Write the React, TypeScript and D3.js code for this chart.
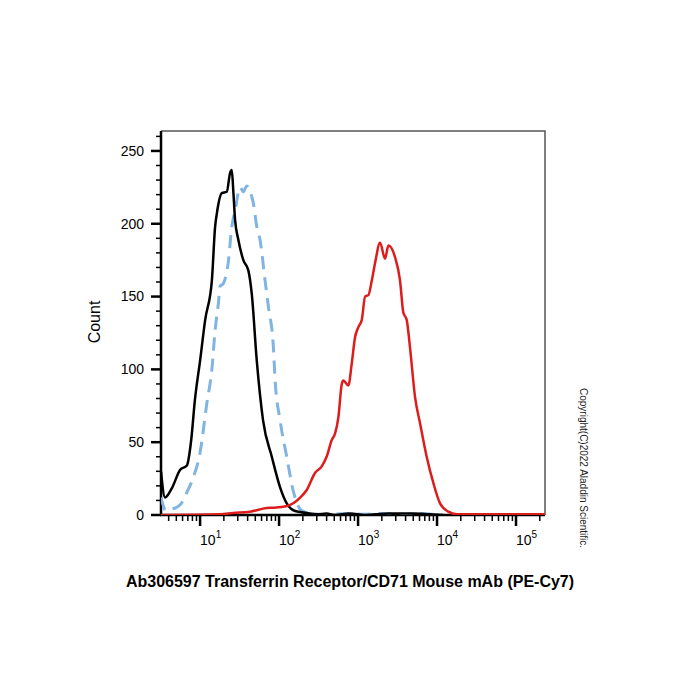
import React from 'react';
import * as d3 from 'd3';

// black: unstained / isotype (solid)
const blackX = [3.2, 3.6, 4.4, 5.6, 6.8, 7.7, 8.6, 10, 11.6, 14.1, 15.5, 16.3, 18.8, 21.8, 24, 25.2, 26.3, 27.7, 30.5, 35.3, 40.8, 45.1, 52.2, 62.7, 80.9, 103, 125, 150, 185, 246, 300, 400, 500, 800, 1200, 2500, 5000, 8000, 12000];
const blackY = [30, 12, 18.5, 31, 34, 51, 79, 106, 134, 161, 198, 207, 221, 222, 235, 237, 223, 203, 189, 175, 168, 152, 106, 65, 40, 19, 8, 3.4, 2, 1, 0.5, 1, 0, 1, 0, 1, 1, 0.5, 0];

// light blue: control (dashed)
const blueX = [3.2, 3.7, 4.4, 5.6, 7.0, 8.1, 10, 12.2, 14.1, 15.5, 17.1, 17.9, 19.7, 22.8, 25.2, 27.7, 32.1, 35.3, 39, 43, 47.3, 52.2, 57.4, 66.5, 73.3, 84.8, 89, 103, 125, 152, 185, 213, 262, 400, 700, 1200, 2000, 4000, 6000, 9000];
const blueY = [12, 3, 4, 7, 17, 25, 43, 77, 100, 127, 146, 157, 159, 174, 198, 209, 225, 222, 226, 222, 214, 198, 189, 161, 143, 115, 93, 65, 40, 16, 4, 2, 1, 0.3, 1, 0.5, 1, 0.3, 1, 0.3];

// red: Transferrin Receptor/CD71 stained
const redX = [3.2, 17.9, 26.2, 43, 69.8, 84, 126, 185, 224, 286, 347, 402, 465, 512, 564, 622, 652, 754, 832, 916, 1009, 1115, 1227, 1352, 1493, 1642, 1899, 2196, 2420, 2941, 3401, 3744, 4130, 4549, 5267, 6093, 7396, 8975, 10910, 13900, 17740, 232800];
const redY = [0, 0.5, 1.4, 2.3, 4.8, 5, 6.2, 12, 17.2, 29, 33.4, 40.3, 51.5, 56, 67.2, 90, 92.3, 89, 104, 122, 129, 134, 150, 151, 161, 173, 187, 176, 185, 177, 161, 139, 134, 115, 81, 63, 40, 22, 8, 2.3, 0.5, 0.5];

const yTicks = [0, 50, 100, 150, 200, 250];
const xDecades = [1, 2, 3, 4, 5];

const xTitle = 'Ab306597 Transferrin Receptor/CD71 Mouse mAb (PE-Cy7)';
const yTitle = 'Count';
const copyright = 'Copyright(C)2022 Aladdin Scientific.';

const FONT = '"Liberation Sans", Arial, sans-serif';

export default function App() {
  const left = 161, right = 545, top = 131, bottom = 515;
  const x = d3.scaleLog().domain([3.2, 232800]).range([left, right]);
  const y = d3.scaleLinear().domain([0, 263.7]).range([bottom, top]);

  const line = d3
    .line<[number, number]>()
    .x((d) => x(d[0]))
    .y((d) => y(d[1]))
    .curve(d3.curveMonotoneX);

  const zip = (xs: number[], ys: number[]) => xs.map((v, i) => [v, ys[i]] as [number, number]);

  const yMinor = d3.range(0, 261, 10).filter((v) => v % 50 !== 0);
  const xMinor: number[] = [];
  for (let d = 0; d <= 5; d++) {
    for (let k = 2; k <= 9; k++) {
      const v = k * Math.pow(10, d);
      if (v >= 3.2 && v <= 232800) xMinor.push(v);
    }
  }

  return (
    <svg width={700} height={700} style={{ position: 'absolute', left: 0, top: 0, background: '#fff' }} fontFamily={FONT}>
      <defs>
        <clipPath id="plot">
          <rect x={left} y={top - 2} width={right - left} height={bottom - top + 2} />
        </clipPath>
      </defs>

      {/* frame */}
      <path d={`M${left},${top}H${right}V${bottom}`} fill="none" stroke="#555" strokeWidth={1.5} />

      {/* y axis */}
      <line x1={left} x2={left} y1={top} y2={bottom + 1} stroke="#000" strokeWidth={2.5} />
      {yMinor.map((v) => (
        <line key={'ym' + v} x1={left - 5} x2={left} y1={y(v)} y2={y(v)} stroke="#000" strokeWidth={1.5} />
      ))}
      {yTicks.map((v) => (
        <g key={'y' + v}>
          <line x1={left - 10} x2={left} y1={y(v)} y2={y(v)} stroke="#000" strokeWidth={2.5} />
          <text x={left - 17} y={y(v)} dy="0.35em" textAnchor="end" fontSize={14}>{v}</text>
        </g>
      ))}

      {/* x axis */}
      <line x1={left - 1} x2={right} y1={bottom} y2={bottom} stroke="#000" strokeWidth={2.5} />
      {xMinor.map((v) => (
        <line key={'xm' + v} x1={x(v)} x2={x(v)} y1={bottom} y2={bottom + 6} stroke="#000" strokeWidth={1.5} />
      ))}
      {xDecades.map((e) => (
        <g key={'x' + e}>
          <line x1={x(Math.pow(10, e))} x2={x(Math.pow(10, e))} y1={bottom} y2={bottom + 11} stroke="#000" strokeWidth={2.5} />
          <text x={x(Math.pow(10, e))} y={bottom + 30} fontSize={14}>
            10<tspan fontSize={10} dy={-7}>{e}</tspan>
          </text>
        </g>
      ))}

      {/* histograms */}
      <g clipPath="url(#plot)" fill="none" strokeLinejoin="round">
        <path d={line(zip(blueX, blueY)) ?? ''} stroke="#80b4e2" strokeWidth={3} strokeDasharray="13 8" />
        <path d={line(zip(blackX, blackY)) ?? ''} stroke="#000" strokeWidth={2.5} />
        <path d={line(zip(redX, redY)) ?? ''} stroke="#dd1c1c" strokeWidth={2.5} />
      </g>

      {/* titles */}
      <text x={350} y={587} textAnchor="middle" fontSize={16} fontWeight="bold">{xTitle}</text>
      <text transform={`translate(100,${322}) rotate(-90)`} textAnchor="middle" fontSize={16}>{yTitle}</text>
      <text transform={`translate(580,${388}) rotate(90)`} fontSize={10} fill="#222">{copyright}</text>
    </svg>
  );
}
